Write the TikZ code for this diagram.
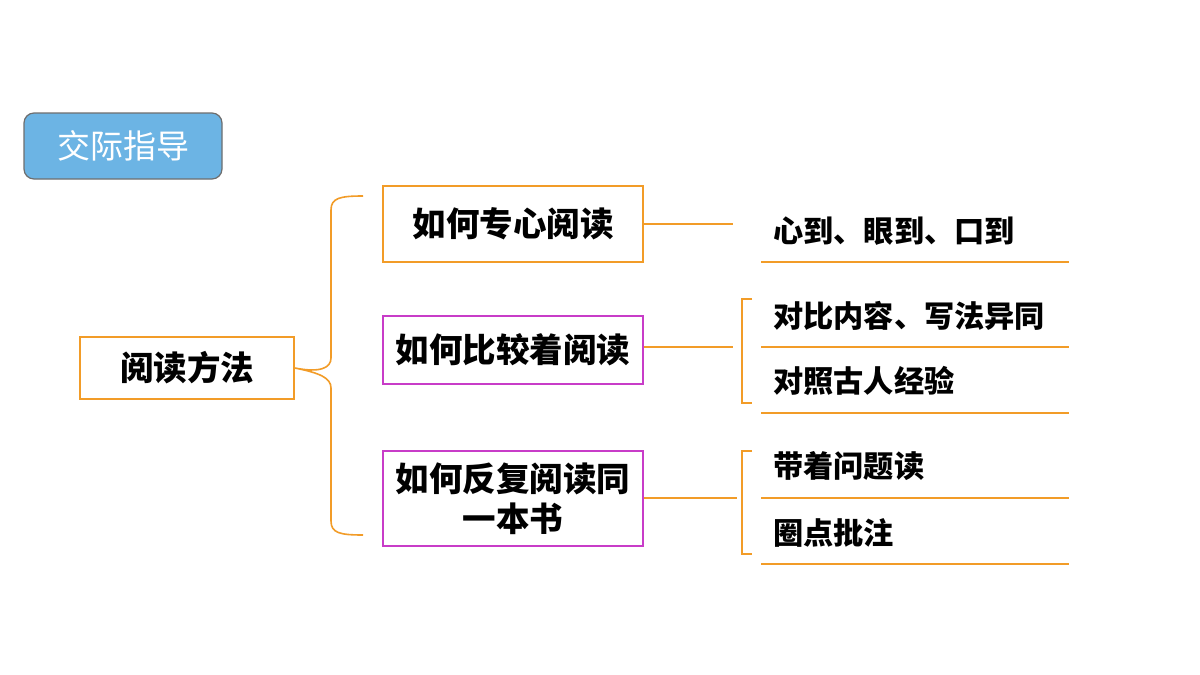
\documentclass[tikz,border=0pt]{standalone}
\usepackage{fontspec}
\newfontfamily\cjk{Noto Sans CJK SC}
\definecolor{orng}{RGB}{242,156,40}
\definecolor{magn}{RGB}{200,60,200}
\definecolor{skyb}{RGB}{108,180,228}
\definecolor{bord}{RGB}{110,110,110}
\tikzset{
  obox/.style={draw=orng, line width=1.6pt, minimum width=260pt, align=center, inner sep=0pt, font=\cjk\bfseries\fontsize{33.5}{40}\selectfont},
  mbox/.style={obox, draw=magn},
  leaf/.style={anchor=west, inner sep=0pt, font=\cjk\bfseries\fontsize{30.2}{34}\selectfont},
  conn/.style={draw=orng, line width=1.6pt},
  uline/.style={draw=orng, line width=2pt}
}
\begin{document}
\begin{tikzpicture}[x=1pt,y=-1pt]
\useasboundingbox (0,0) rectangle (1200,675);
\fill[white] (0,0) rectangle (1200,675);
% title
\node[draw=bord, fill=skyb, rounded corners=10pt, line width=1.2pt, minimum width=198pt, minimum height=66pt, text=white, font=\cjk\fontsize{33}{36}\selectfont] (title) at (123,146) {交际指导};
% root
\node[obox, minimum width=214pt, minimum height=62pt] (root) at (187,368) {阅读方法};
% level 1
\node[obox, minimum height=76pt] (b1) at (513,224) {如何专心阅读};
\node[mbox, minimum height=68pt] (b2) at (513,350) {如何比较着阅读};
\node[mbox, minimum height=95pt] (b3) at (513,498.5) {如何反复阅读同\\一本书};
% brace
\coordinate (bt) at (363,196);
\coordinate (bb) at (363,535);
\draw[conn] (bt) .. controls (340,196) and (331,198) .. (331,210) -- (331,358)
  .. controls (331,368) and (320,373) .. (root.east)
  .. controls (320,373) and (331,378) .. (331,388) -- (331,521)
  .. controls (331,533) and (340,535) .. (bb);
% connectors to leaves
\coordinate (l1) at (733,224);
\coordinate (l2) at (733,347);
\coordinate (l3) at (737,498);
\draw[conn] (b1.east) -- (l1);
\draw[conn] (b2.east |- l2) -- (l2);
\draw[conn] (b3.east |- l3) -- (l3);
% brackets
\coordinate (k2a) at (752,299); \coordinate (k2b) at (752,403);
\coordinate (k3a) at (752,451); \coordinate (k3b) at (752,554);
\draw[conn] (k2a) -- (742,299) -- (742,403) -- (k2b);
\draw[conn] (k3a) -- (742,451) -- (742,554) -- (k3b);
% leaves
\node[leaf] (t1) at (773,231) {心到、眼到、口到};
\node[leaf] (t2) at (773,316) {对比内容、写法异同};
\node[leaf] (t3) at (773,381) {对照古人经验};
\node[leaf] (t4) at (773,466) {带着问题读};
\node[leaf] (t5) at (773,533) {圈点批注};
% underlines
\foreach \yy in {262,347,413,498,564}
  \draw[uline] (761,\yy) -- (1069,\yy);
\end{tikzpicture}
\end{document}
